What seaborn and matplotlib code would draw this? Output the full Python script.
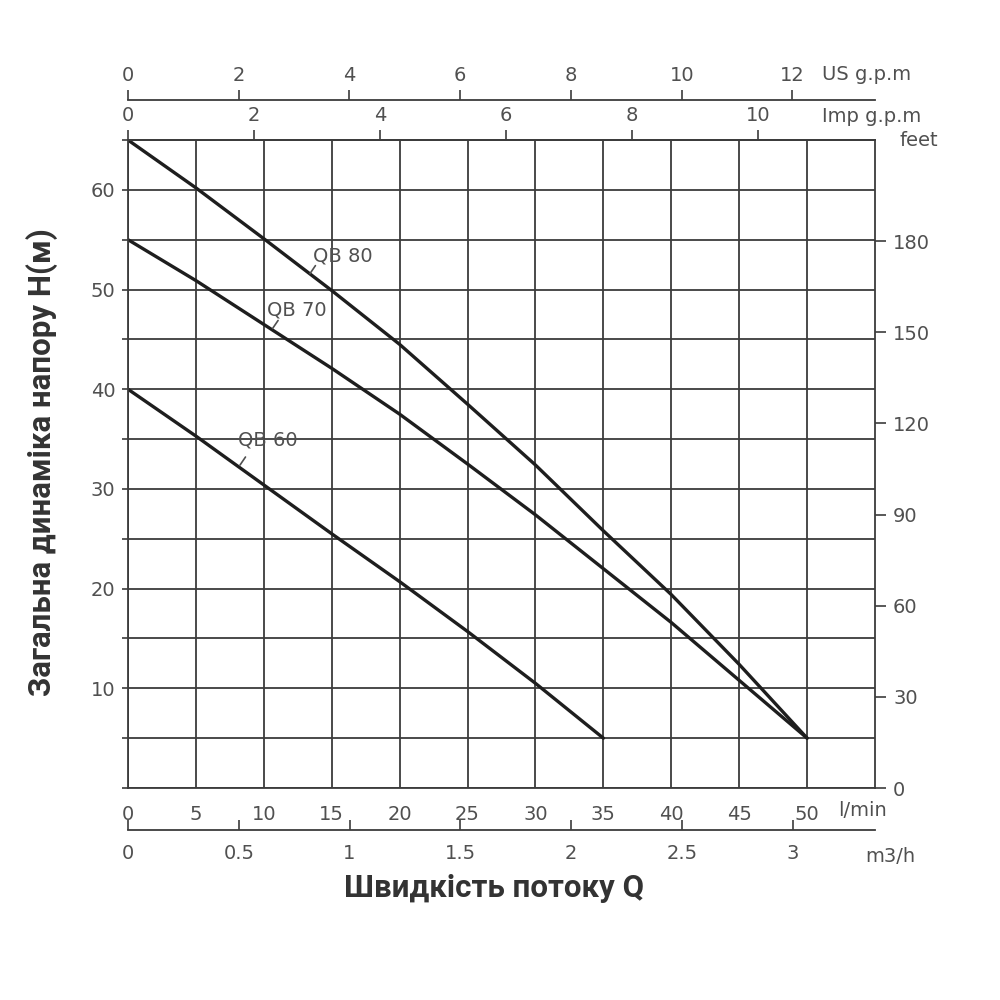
import numpy as np
import pandas as pd
import matplotlib
matplotlib.use("Agg")
import matplotlib.pyplot as plt
import seaborn as sns

# ---- data ----
flow_lpm = [0, 5, 10, 15, 20, 25, 30, 35, 40, 45, 50]
head_qb80 = [65, 60.2, 55.1, 49.9, 44.5, 38.5, 32.4, 25.8, 19.4, 12.4, 5]
head_qb70 = [55, 50.9, 46.5, 42.1, 37.5, 32.5, 27.4, 22.0, 16.6, 10.8, 5]
flow_qb60 = [0, 5, 10, 15, 20, 25, 30, 35]
head_qb60 = [40, 35.3, 30.4, 25.5, 20.7, 15.7, 10.5, 5]

lpm_ticks = [0, 5, 10, 15, 20, 25, 30, 35, 40, 45, 50]
head_ticks = [0, 5, 10, 15, 20, 25, 30, 35, 40, 45, 50, 55, 60, 65]
head_labels = ["", "", "10", "", "20", "", "30", "", "40", "", "50", "", "60", ""]
feet_ticks = [0, 30, 60, 90, 120, 150, 180]
us_gpm_ticks = [0, 2, 4, 6, 8, 10, 12]
imp_gpm_ticks = [0, 2, 4, 6, 8, 10]
m3h_ticks = [0, 0.5, 1, 1.5, 2, 2.5, 3]
m3h_labels = ["0", "0.5", "1", "1.5", "2", "2.5", "3"]

LPM_PER_USGPM = 4.077
LPM_PER_IMPGPM = 4.64
LPM_PER_M3H = 16.31
M_PER_FT = 0.3048

models = ["QB 80", "QB 70", "QB 60"]

df = pd.concat([
    pd.DataFrame({"Q": flow_lpm, "H": head_qb80, "model": "QB 80"}),
    pd.DataFrame({"Q": flow_lpm, "H": head_qb70, "model": "QB 70"}),
    pd.DataFrame({"Q": flow_qb60, "H": head_qb60, "model": "QB 60"}),
])

sns.set_theme(style="white")
plt.rcParams["font.family"] = ["DejaVu Sans"]

GRID = "#3c3c3c"
TXT = "#505050"
CURVE = "#1e1e1e"

fig = plt.figure(figsize=(10, 10), dpi=100)
ax = fig.add_axes([0.128, 0.212, 0.747, 0.648])

sns.lineplot(data=df, x="Q", y="H", hue="model", units="model", estimator=None,
             palette={m: CURVE for m in models}, linewidth=2.4, legend=False,
             sort=False, ax=ax)
for ln in ax.get_lines():
    ln.set_solid_joinstyle("round")
    ln.set_solid_capstyle("round")

ax.set_xlim(0, 55)
ax.set_ylim(0, 65)
ax.set_xticks(lpm_ticks)
ax.set_xticklabels([str(t) for t in lpm_ticks])
ax.set_yticks(head_ticks)
ax.set_yticklabels(head_labels)
ax.grid(True, color=GRID, linewidth=1.3)
ax.set_axisbelow(True)
for s in ax.spines.values():
    s.set_color(GRID)
    s.set_linewidth(1.3)
ax.tick_params(axis="x", length=0, pad=12, labelsize=14, labelcolor=TXT)
ax.tick_params(axis="y", length=4, width=1.2, color=GRID, direction="out",
               pad=5, labelsize=14, labelcolor=TXT)
ax.set_xlabel("")
ax.set_ylabel("")

# right axis: feet
axr = ax.twinx()
axr.set_ylim(0, 65 / M_PER_FT)
axr.set_yticks(feet_ticks)
axr.set_yticklabels([str(t) for t in feet_ticks])
axr.tick_params(axis="y", length=8, width=1.2, color=GRID, direction="out",
                pad=5, labelsize=14, labelcolor=TXT)
axr.grid(False)
for s in axr.spines.values():
    s.set_visible(False)

# top axes: Imp g.p.m (on frame) and US g.p.m (above)
imp = ax.secondary_xaxis("top", functions=(lambda q: q / LPM_PER_IMPGPM,
                                           lambda g: g * LPM_PER_IMPGPM))
imp.set_xticks(imp_gpm_ticks)
imp.tick_params(length=7, width=1.2, color=GRID, pad=4, labelsize=14, labelcolor=TXT)
imp.spines["top"].set_color(GRID)
imp.spines["top"].set_linewidth(1.3)

us = ax.secondary_xaxis(1.062, functions=(lambda q: q / LPM_PER_USGPM,
                                          lambda g: g * LPM_PER_USGPM))
us.set_xticks(us_gpm_ticks)
us.tick_params(length=7, width=1.2, color=GRID, pad=4, labelsize=14, labelcolor=TXT)
us.spines["top"].set_color(GRID)
us.spines["top"].set_linewidth(1.3)

# bottom axis: m3/h
m3 = ax.secondary_xaxis(-0.065, functions=(lambda q: q / LPM_PER_M3H,
                                           lambda v: v * LPM_PER_M3H))
m3.set_xticks(m3h_ticks)
m3.set_xticklabels(m3h_labels)
m3.tick_params(length=7, width=1.2, color=GRID, direction="in", pad=10,
               labelsize=14, labelcolor=TXT)
m3.spines["bottom"].set_color(GRID)
m3.spines["bottom"].set_linewidth(1.3)

# unit labels
unit_kw = dict(fontsize=14, color=TXT, va="center", ha="left")
fig.text(0.822, 1 - 0.075, "US g.p.m", **unit_kw)
fig.text(0.822, 1 - 0.117, "Imp g.p.m", **unit_kw)
fig.text(0.900, 1 - 0.140, "feet", **unit_kw)
fig.text(0.838, 1 - 0.811, "l/min", **unit_kw)
fig.text(0.865, 1 - 0.856, "m3/h", **unit_kw)

# curve labels with leader ticks
lab_kw = dict(fontsize=14, color=TXT, va="center", ha="left")
ax.text(13.6, 53.4, "QB 80", **lab_kw)
ax.plot([13.4, 13.8], [51.6, 52.4], color=TXT, lw=1.2)
ax.text(10.25, 47.9, "QB 70", **lab_kw)
ax.plot([10.65, 11.05], [46.1, 46.9], color=TXT, lw=1.2)
ax.text(8.1, 34.9, "QB 60", **lab_kw)
ax.plot([8.25, 8.65], [32.4, 33.2], color=TXT, lw=1.2)

# axis titles
title_kw = dict(fontsize=22.5, fontweight="bold", color="#333333",
                family=["Roboto", "DejaVu Sans"])
fig.text(0.042, 0.538, "Загальна динаміка напору H(м)", rotation=90,
         ha="center", va="center", **title_kw)
fig.text(0.494, 0.112, "Швидкість потоку Q", ha="center", va="center", **title_kw)

fig.savefig("out.png", dpi=100, facecolor="white")
